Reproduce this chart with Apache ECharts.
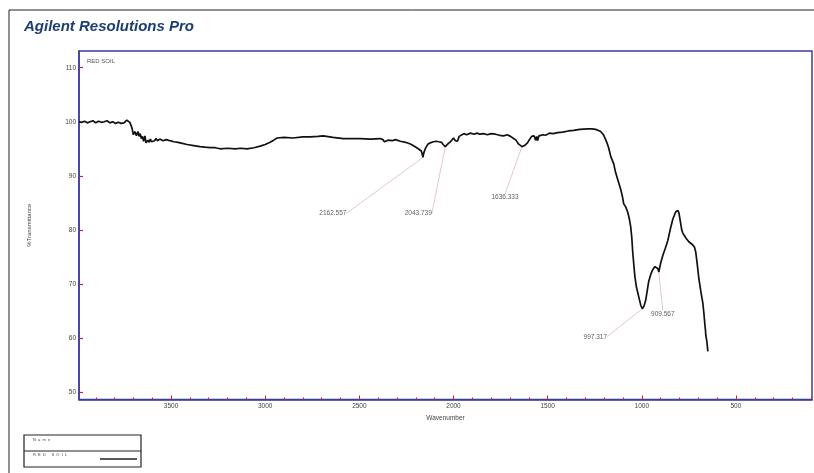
<!DOCTYPE html>
<html>
<head>
<meta charset="utf-8">
<script src="https://cdn.jsdelivr.net/npm/echarts@6/dist/echarts.min.js"></script>
<style>
html,body{margin:0;padding:0;background:#fff;}
#c{width:814px;height:473px;}
</style>
</head>
<body>
<div id="c"></div>
<script>
// ---- data ----
const wavenumber = [3989,3975,3960,3945,3930,3915,3900,3885,3870,3855,3840,3825,3810,3795,3780,3765,3750,3735,3725,3719,3712,3706,3700,3692,3684,3676,3670,3664,3658,3652,3646,3639,3633,3628,3622,3616,3610,3604,3596,3588,3580,3572,3560,3543,3525,3506,3485,3463,3440,3415,3380,3346,3320,3293,3265,3240,3200,3160,3130,3096,3060,3027,3000,2974,2955,2937,2900,2852,2800,2761,2720,2692,2640,2586,2540,2495,2440,2389,2375,2367,2357,2348,2341,2325,2309,2282,2255,2229,2210,2187,2171,2166,2162.6,2158,2150,2144,2135,2123,2107,2091,2078,2064,2055,2043.7,2035,2027,2016,2008,2000,1995,1990,1984,1979,1970,1963,1945,1930,1910,1890,1875,1860,1841,1820,1800,1777,1755,1734,1715,1697,1681,1668,1655,1645,1636.3,1623,1615,1607,1599,1591,1585,1580,1572,1564,1558,1554,1546,1538,1525,1511,1490,1470,1447,1420,1390,1362,1330,1287,1265,1245,1230,1218,1210,1202,1192,1184,1176,1165,1157,1149,1139,1125,1112,1103,1096,1085,1075,1066,1059,1053,1048,1042,1037,1029,1021,1012,1005,997.3,988,979,970,963,952,942,930,920,914,909.6,900,888,875,862,848,835,820,809,803,795,788,782,775,766,750,729,720,713,705,697,686,676,670,665,662,660,655,649];
const transmittance = [100.0,99.9,100.1,99.8,100.0,100.2,99.8,100.1,99.9,100.0,100.2,99.8,100.0,99.7,99.9,99.7,99.8,100.3,100.1,99.9,99.3,98.6,97.6,98.2,97.4,98.2,97.3,97.8,96.9,97.3,96.4,97.4,96.1,96.0,96.6,96.2,96.8,96.3,96.6,96.5,96.9,96.5,96.8,96.5,96.7,96.5,96.3,96.2,96.0,95.8,95.6,95.4,95.3,95.2,95.2,95.0,95.1,95.0,95.1,95.0,95.2,95.5,95.8,96.2,96.6,97.0,97.1,97.0,97.2,97.2,97.3,97.4,97.1,96.9,96.9,96.9,96.8,96.9,96.7,96.3,96.0,96.6,96.8,96.5,96.7,96.4,96.2,95.9,95.5,95.0,94.6,94.0,93.4,94.2,95.0,95.4,95.9,96.1,96.3,96.4,96.3,96.2,95.8,95.4,95.7,96.0,96.3,96.6,97.0,96.7,96.5,96.3,96.4,97.3,97.6,97.8,97.6,97.9,97.7,97.9,97.7,97.8,97.6,97.8,97.7,97.5,97.4,97.6,97.3,96.9,96.6,95.9,95.6,95.4,95.6,95.9,96.1,96.6,96.9,97.3,97.0,97.4,96.6,97.3,96.5,97.4,97.2,97.6,97.5,97.9,97.8,98.0,98.1,98.3,98.4,98.6,98.7,98.7,98.6,98.4,98.2,97.9,97.5,96.7,96.0,95.2,93.6,92.9,92.2,90.6,89.0,87.5,86.2,84.8,84.2,83.3,82.0,80.6,78.5,75.8,73.4,71.5,69.5,68.3,67.0,66.0,65.4,65.9,67.0,69.0,70.5,71.8,72.6,73.2,73.3,72.8,72.2,73.8,75.3,76.6,78.0,80.2,82.0,83.3,83.6,83.2,81.5,80.0,79.4,79.0,78.5,77.8,77.2,76.8,75.8,73.5,71.0,68.5,66.5,64.5,62.5,61.5,60.5,59.5,57.5];
const peakWavenumbers = [2162.557, 2043.739, 1636.333, 997.317, 909.567];
const peakValues = [93.4, 95.4, 95.4, 65.4, 72.2];
const peakLabels = ['2162.557', '2043.739', '1636.333', '997.317', '909.567'];
const xMajorTicks = [500, 1000, 1500, 2000, 2500, 3000, 3500];
const xMinorTicks = [100,200,300,400,500,600,700,800,900,1000,1100,1200,1300,1400,1500,1600,1700,1800,1900,2000,2100,2200,2300,2400,2500,2600,2700,2800,2900,3000,3100,3200,3300,3400,3500,3600,3700,3800,3900];
const yTicks = [50, 60, 70, 80, 90, 100, 110];

// ---- styles / layout ----
const labelOffsets = [[-90, 56], [-27, 67], [-17, 51], [-47, 28], [4, 42]];
const axisBlue = '#3d3d9e';
const tickRed = '#d0202a';
const FONT = 'Liberation Sans, Arial, sans-serif';

const curve = wavenumber.map((w, i) => [w, transmittance[i]]);
const peaks = peakWavenumbers.map((w, i) => ({ value: [w, peakValues[i]], name: peakLabels[i] }));

const chart = echarts.init(document.getElementById('c'), null, { renderer: 'canvas' });
chart.setOption({
  animation: false,
  backgroundColor: '#fff',
  textStyle: { fontFamily: FONT },
  grid: {
    left: 79, right: 2, top: 51, bottom: 73.5,
    show: true, borderColor: axisBlue, borderWidth: 1.5, backgroundColor: 'transparent'
  },
  xAxis: [{
    type: 'value', inverse: true, min: 96, max: 3989, position: 'bottom', offset: 0,
    axisLine: { show: true, onZero: false, lineStyle: { color: axisBlue, width: 1.5 } },
    axisTick: { show: true, inside: true, length: 4, customValues: xMajorTicks, lineStyle: { color: tickRed, width: 1 } },
    axisLabel: { customValues: xMajorTicks, formatter: (v) => String(v), fontSize: 6.5, color: '#444', margin: 3, fontFamily: FONT },
    splitLine: { show: false },
    name: 'Wavenumber', nameLocation: 'middle', nameGap: 14,
    nameTextStyle: { fontSize: 6.5, color: '#444', fontFamily: FONT }
  }, {
    type: 'value', inverse: true, min: 96, max: 3989, position: 'bottom', offset: 0,
    axisLine: { show: false },
    axisTick: { show: true, inside: true, length: 2, customValues: xMinorTicks, lineStyle: { color: tickRed, width: 1 } },
    axisLabel: { show: false },
    splitLine: { show: false }
  }],
  yAxis: {
    type: 'value', min: 48.6, max: 113.1,
    axisLine: { show: true, lineStyle: { color: axisBlue, width: 1.5 } },
    axisTick: { show: true, inside: true, length: 4, customValues: yTicks, lineStyle: { color: tickRed, width: 1.2 } },
    axisLabel: { customValues: yTicks, formatter: (v) => String(v), fontSize: 6.5, color: '#444', margin: 3, fontFamily: FONT },
    splitLine: { show: false },
    name: '%Transmittance', nameLocation: 'middle', nameGap: 47,
    nameTextStyle: { fontSize: 6, color: '#444', fontFamily: FONT }
  },
  series: [{
    type: 'line', xAxisIndex: 0, data: curve, showSymbol: false, symbol: 'none',
    lineStyle: { color: '#111', width: 1.7 }, silent: true
  }, {
    type: 'scatter', xAxisIndex: 0, data: peaks, symbolSize: 1,
    itemStyle: { color: 'rgba(0,0,0,0)' },
    label: {
      show: true, position: 'inside', formatter: '{b}',
      fontSize: 6.5, color: '#333', fontFamily: FONT
    },
    labelLayout: (p) => ({ dx: labelOffsets[p.dataIndex][0], dy: labelOffsets[p.dataIndex][1] }),
    labelLine: { show: true, lineStyle: { color: '#e2cbc2', width: 1 } }
  }],
  graphic: [
    { type: 'line', shape: { x1: 9, y1: 10, x2: 814, y2: 10 }, style: { stroke: '#222', lineWidth: 1 } },
    { type: 'line', shape: { x1: 9, y1: 10, x2: 9, y2: 473 }, style: { stroke: '#222', lineWidth: 1 } },
    { type: 'text', left: 24, top: 19, style: { text: 'Agilent Resolutions Pro', font: 'italic bold 15px ' + FONT, fill: '#1d3e72' } },
    { type: 'text', left: 87, top: 58, style: { text: 'RED SOIL', font: '6px ' + FONT, fill: '#555' } },
    { type: 'rect', shape: { x: 24, y: 435, width: 117, height: 32 }, style: { fill: 'none', stroke: '#222', lineWidth: 1.2 } },
    { type: 'line', shape: { x1: 24, y1: 451, x2: 141, y2: 451 }, style: { stroke: '#222', lineWidth: 1 } },
    { type: 'text', left: 33, top: 438, style: { text: 'N  a  m  e', font: '4px ' + FONT, fill: '#444' } },
    { type: 'text', left: 33, top: 453, style: { text: 'R  E  D     S  O  I  L', font: '4px ' + FONT, fill: '#444' } },
    { type: 'line', shape: { x1: 100, y1: 459, x2: 137, y2: 459 }, style: { stroke: '#222', lineWidth: 1.5 } }
  ]
});
</script>
</body>
</html>
